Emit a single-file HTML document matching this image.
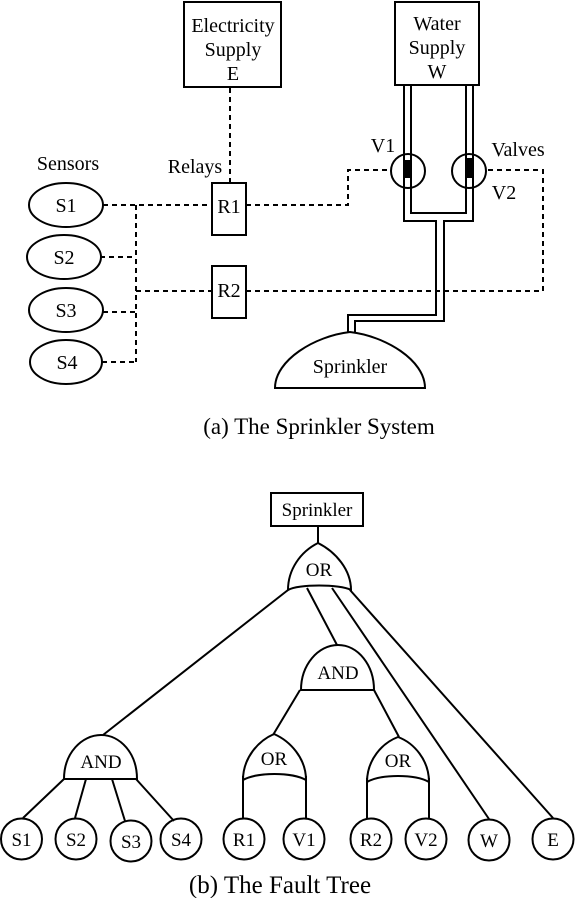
<!DOCTYPE html>
<html><head><meta charset="utf-8"><style>
html,body{margin:0;padding:0;background:#fff}
svg{display:block}
text{font-family:"Liberation Serif",serif;fill:#000}
</style></head><body>
<svg width="575" height="898" viewBox="0 0 575 898" xmlns="http://www.w3.org/2000/svg">
<g fill="none" stroke="#000" stroke-width="2">
<rect x="184" y="2" width="97" height="85"/>
<rect x="395" y="2" width="84" height="83"/>
<rect x="212" y="183" width="34" height="52"/>
<rect x="212" y="266" width="34" height="52"/>
<ellipse cx="66" cy="205" rx="37" ry="22"/>
<ellipse cx="64" cy="257" rx="37" ry="22"/>
<ellipse cx="66" cy="310" rx="37" ry="22"/>
<ellipse cx="66" cy="362" rx="36" ry="22"/>
<circle cx="408" cy="171" r="17"/>
<circle cx="469" cy="171" r="17"/>
</g>
<g fill="none" stroke="#000" stroke-width="2" stroke-dasharray="5,4">
<path d="M230 88V183"/>
<path d="M103 205H212"/>
<path d="M136 205V362"/>
<path d="M100 257H136M103 312H136M102 362H136"/>
<path d="M136 291H212"/>
<path d="M246 205H348V170H390"/>
<path d="M246 291H543V170H487"/>
</g>
<g fill="none" stroke="#000" stroke-width="2">
<path d="M404 85V221H436V315H348V333"/>
<path d="M473 85V221H444V321H355V333"/>
<path d="M411 85V213H466V85"/>
<path d="M275 388H425C425 360 385 336 350 332C315 336 275 360 275 388Z"/>
</g>
<rect x="404" y="160" width="7" height="18" fill="#000"/>
<rect x="466" y="158" width="7" height="20" fill="#000"/>
<g font-size="20" text-anchor="middle">
<text x="233" y="32">Electricity</text>
<text x="233" y="56">Supply</text>
<text x="233" y="80">E</text>
<text x="437" y="30">Water</text>
<text x="437" y="54">Supply</text>
<text x="437" y="78">W</text>
<text x="68" y="170">Sensors</text>
<text x="195" y="173">Relays</text>
<text x="229" y="213">R1</text>
<text x="229" y="297">R2</text>
<text x="66" y="212">S1</text>
<text x="64" y="264">S2</text>
<text x="66" y="317">S3</text>
<text x="67" y="369">S4</text>
<text x="383" y="152">V1</text>
<text x="518" y="156">Valves</text>
<text x="504" y="199">V2</text>
<text x="350" y="373">Sprinkler</text>
<text x="319" y="434" font-size="23">(a) The Sprinkler System</text>
</g>
<g fill="none" stroke="#000" stroke-width="2">
<rect x="271" y="493" width="92" height="33"/>
<path d="M318 526V543"/>
<path d="M288 590C288 570 300 552 318 543C336 552 351 570 351 590C340 584 298 584 288 590Z"/>
<path d="M301 690C301 665 318 645 338 645C358 645 374 665 374 690Z"/>
<path d="M64 779C64 753 82 735 101 735C120 735 137 753 137 779Z"/>
<path d="M243 780C243 758 258 741 274 734C290 741 306 758 306 780C292 772 257 772 243 780Z"/>
<path d="M367 782C367 760 382 743 398 737C414 743 429 760 429 782C415 774 381 774 367 782Z"/>
<path d="M288 590L103 735M307 588L337 645M332 588L489 819M350 590L553 818"/>
<path d="M300 690L273 735M374 690L399 737"/>
<path d="M64 779L23 818M86 779L75 818M112 779L125 821M136 779L174 821"/>
<path d="M243 776V818M306 776V818M367 778V818M429 778V818"/>
<circle cx="21.5" cy="839" r="20.5"/>
<circle cx="76" cy="839" r="20.5"/>
<circle cx="131" cy="841" r="20.5"/>
<circle cx="181" cy="839" r="20.5"/>
<circle cx="244" cy="839" r="20.5"/>
<circle cx="304" cy="839" r="20.5"/>
<circle cx="371" cy="839" r="20.5"/>
<circle cx="426" cy="839" r="20.5"/>
<circle cx="489" cy="840" r="20.5"/>
<circle cx="553" cy="839" r="20.5"/>
</g>
<g font-size="19" text-anchor="middle">
<text x="317" y="516">Sprinkler</text>
<text x="319" y="576">OR</text>
<text x="338" y="679">AND</text>
<text x="101" y="768">AND</text>
<text x="274" y="765">OR</text>
<text x="398" y="767">OR</text>
<text x="21.5" y="846">S1</text>
<text x="76" y="846">S2</text>
<text x="131" y="848">S3</text>
<text x="181" y="846">S4</text>
<text x="244" y="846">R1</text>
<text x="304" y="846">V1</text>
<text x="371" y="846">R2</text>
<text x="426" y="846">V2</text>
<text x="489" y="847">W</text>
<text x="553" y="846">E</text>
<text x="280" y="893" font-size="25">(b) The Fault Tree</text>
</g>
</svg>
</body></html>
